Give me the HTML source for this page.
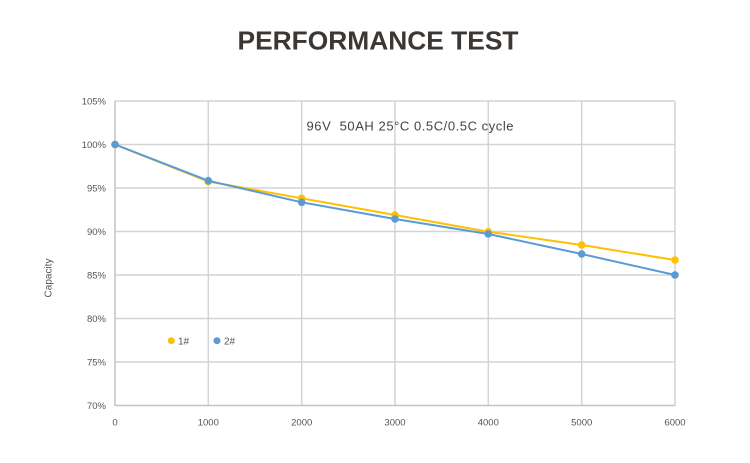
<!DOCTYPE html>
<html><head><meta charset="utf-8"><style>
html,body{margin:0;padding:0;background:#fff;}
svg{display:block;}
</style></head><body>
<svg width="750" height="463" viewBox="0 0 750 463" xmlns="http://www.w3.org/2000/svg" font-family="Liberation Sans, sans-serif">
<rect width="750" height="463" fill="#fff"/>
<text x="378" y="49.5" text-anchor="middle" font-size="26" font-weight="bold" fill="#3b3735" textLength="281" lengthAdjust="spacingAndGlyphs">PERFORMANCE TEST</text>
<g stroke="#d4d4d4" stroke-width="1.5">
<line x1="115" y1="101" x2="675" y2="101"/>
<line x1="115" y1="144.5" x2="675" y2="144.5"/>
<line x1="115" y1="188" x2="675" y2="188"/>
<line x1="115" y1="231.5" x2="675" y2="231.5"/>
<line x1="115" y1="275" x2="675" y2="275"/>
<line x1="115" y1="318.5" x2="675" y2="318.5"/>
<line x1="115" y1="362" x2="675" y2="362"/>
<line x1="208.3" y1="101" x2="208.3" y2="406"/>
<line x1="301.7" y1="101" x2="301.7" y2="406"/>
<line x1="395" y1="101" x2="395" y2="406"/>
<line x1="488.3" y1="101" x2="488.3" y2="406"/>
<line x1="581.7" y1="101" x2="581.7" y2="406"/>
<line x1="675" y1="101" x2="675" y2="406"/>
</g>
<g stroke="#c4c4c4" stroke-width="1.5">
<line x1="115" y1="101" x2="115" y2="406"/>
<line x1="115" y1="405.5" x2="675" y2="405.5"/>
</g>
<g font-size="9.5" fill="#555" text-anchor="end">
<text x="106" y="104.5">105%</text>
<text x="106" y="148">100%</text>
<text x="106" y="191.5">95%</text>
<text x="106" y="235">90%</text>
<text x="106" y="278.5">85%</text>
<text x="106" y="322">80%</text>
<text x="106" y="365.5">75%</text>
<text x="106" y="409">70%</text>
</g>
<g font-size="9.5" fill="#555" text-anchor="middle">
<text x="115" y="425.5">0</text>
<text x="208.3" y="425.5">1000</text>
<text x="301.7" y="425.5">2000</text>
<text x="395" y="425.5">3000</text>
<text x="488.3" y="425.5">4000</text>
<text x="581.7" y="425.5">5000</text>
<text x="675" y="425.5">6000</text>
</g>
<text transform="translate(51.5,278) rotate(-90)" text-anchor="middle" font-size="10" fill="#555">Capacity</text>
<text x="306.5" y="130.5" font-size="13" fill="#444" style="white-space:pre" textLength="207" lengthAdjust="spacing">96V  50AH 25°C 0.5C/0.5C cycle</text>
<polyline fill="none" stroke="#FFC000" stroke-width="2" points="115,144.5 208.3,181.5 301.7,198.3 395,215 488.3,231.7 581.7,245 675,260"/>
<g fill="#FFC000">
<circle cx="115" cy="144.5" r="3.8"/><circle cx="208.3" cy="181.5" r="3.8"/><circle cx="301.7" cy="198.3" r="3.8"/><circle cx="395" cy="215" r="3.8"/><circle cx="488.3" cy="231.7" r="3.8"/><circle cx="581.7" cy="245" r="3.8"/><circle cx="675" cy="260" r="3.8"/>
</g>
<polyline fill="none" stroke="#5B9BD5" stroke-width="2" points="115,144.5 208.3,180.7 301.7,202.3 395,219 488.3,234 581.7,254 675,275"/>
<g fill="#5B9BD5">
<circle cx="115" cy="144.5" r="3.8"/><circle cx="208.3" cy="180.7" r="3.8"/><circle cx="301.7" cy="202.3" r="3.8"/><circle cx="395" cy="219" r="3.8"/><circle cx="488.3" cy="234" r="3.8"/><circle cx="581.7" cy="254" r="3.8"/><circle cx="675" cy="275" r="3.8"/>
</g>
<circle cx="171.3" cy="340.7" r="3.5" fill="#FFC000"/>
<text x="178" y="344.5" font-size="10" fill="#555">1#</text>
<circle cx="217" cy="340.7" r="3.5" fill="#5B9BD5"/>
<text x="224" y="344.5" font-size="10" fill="#555">2#</text>
</svg>
</body></html>
